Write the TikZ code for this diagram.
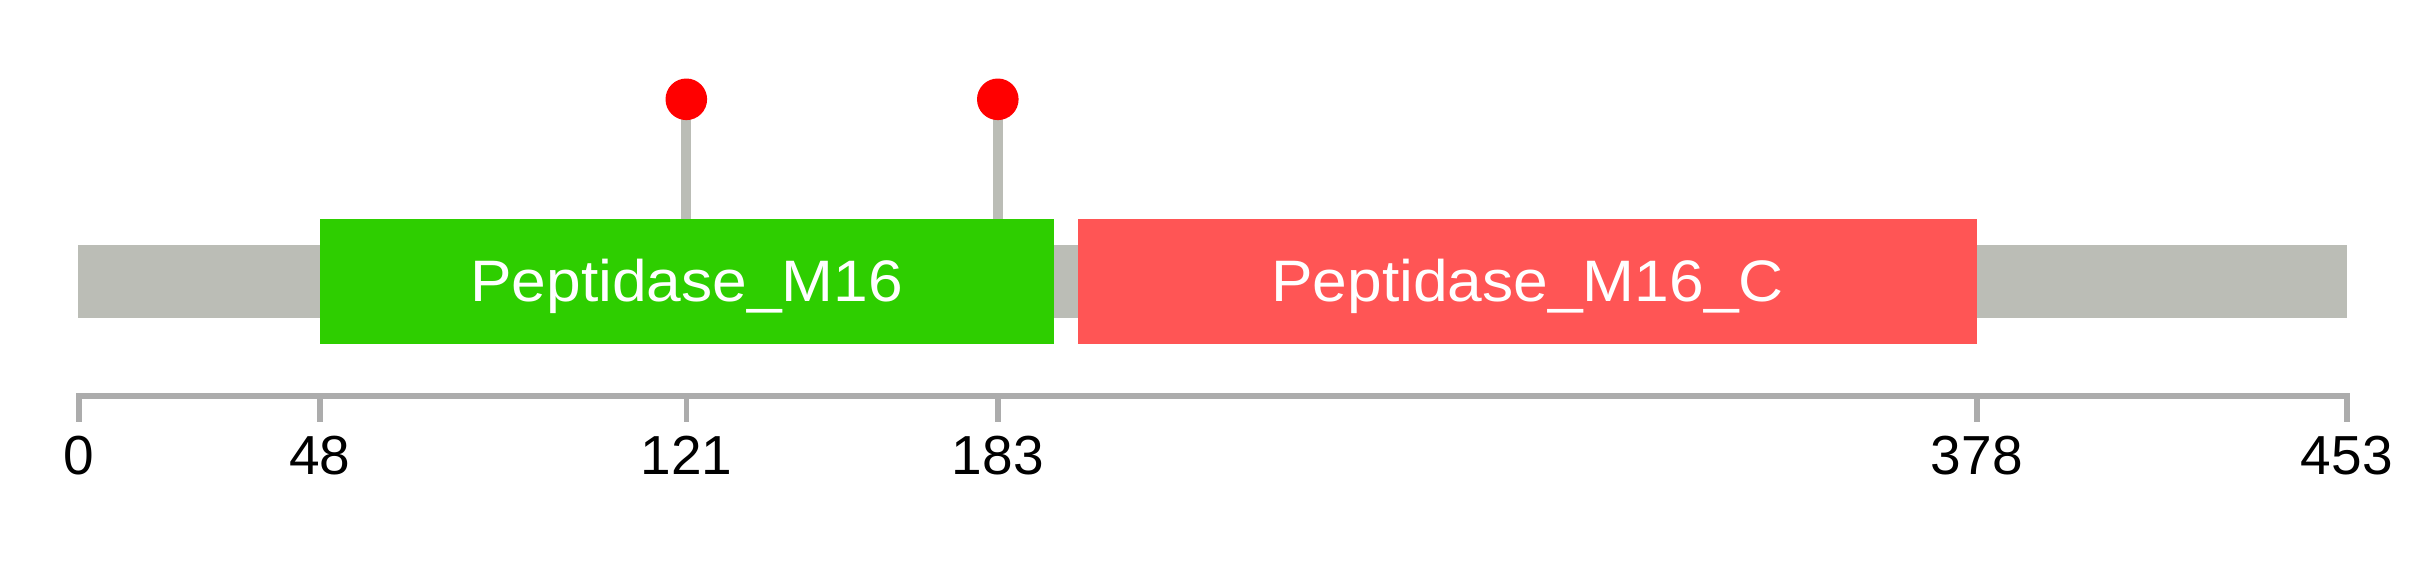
\documentclass[tikz,border=0pt]{standalone}
\usepackage{fontspec}
\usepackage{graphicx}
\setmainfont{Liberation Sans}
\definecolor{backbone}{RGB}{187,189,182}
\definecolor{domgreen}{RGB}{46,206,0}
\definecolor{domred}{RGB}{255,85,85}
\definecolor{pinred}{RGB}{255,0,0}
\definecolor{axisgray}{RGB}{172,172,172}
\newcommand{\widetext}[1]{\scalebox{1.065}[1]{#1}}
\begin{document}
\begin{tikzpicture}[x=1pt,y=-1pt,
  dombox/.style={rectangle,inner sep=0pt,outer sep=0pt,minimum height=125pt},
  domtext/.style={text=white,font=\fontsize{58.5}{62}\selectfont,anchor=base,inner sep=0pt},
  ticklabel/.style={text=black,font=\fontsize{55}{58}\selectfont,anchor=base,inner sep=0pt},
  axisline/.style={draw=axisgray,line width=5.6pt},
  stick/.style={draw=backbone,line width=10pt},
  pinhead/.style={circle,fill=pinred,minimum size=41.6pt,inner sep=0pt,outer sep=0pt}]
\path[use as bounding box] (0,0) rectangle (2432,578);
% backbone
\node[rectangle,fill=backbone,inner sep=0pt,outer sep=0pt,minimum width=2269pt,minimum height=73.3pt] (bb) at (1212.5,281.65) {};
% pins
\coordinate (c1) at (686.3,99.3);
\coordinate (c2) at (997.8,99.3);
\coordinate (s1) at (686.3,219.3);
\coordinate (s2) at (997.8,219.3);
\draw[stick] (s1) -- (c1);
\draw[stick] (s2) -- (c2);
\node[pinhead] (p1) at (c1) {};
\node[pinhead] (p2) at (c2) {};
% domains
\node[dombox,fill=domgreen,minimum width=733.9pt] (m16) at (686.75,281.8) {};
\node[dombox,fill=domred,minimum width=898.4pt] (m16c) at (1527.5,281.8) {};
\node[domtext] (t1) at (686.75,301.7) {\widetext{Peptidase\_M16}};
\node[domtext] (t2) at (1527.5,301.7) {\widetext{Peptidase\_M16\_C}};
% axis
\coordinate (a0) at (78.8,396.2);
\coordinate (a453) at (2346.8,396.2);
\draw[axisline] (a0) -- (a453);
\foreach \x/\lab [count=\i] in {78.8/0,319.8/48,686.3/121,997.8/183,1976.7/378,2346.8/453}{
  \coordinate (tk\i) at (\x,393.4);
  \coordinate (tb\i) at (\x,422.3);
  \draw[draw=axisgray,line width=5.6pt] (tk\i) -- (tb\i);
  \node[ticklabel] (l\i) at (\x,474) {\lab};
}
\end{tikzpicture}
\end{document}
